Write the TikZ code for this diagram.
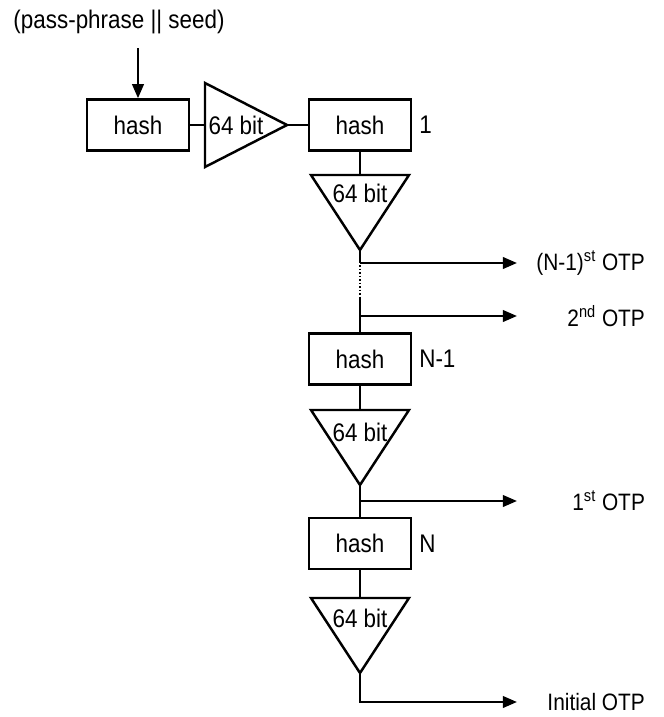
\documentclass[tikz,border=0pt]{standalone}
\usepackage{fontspec}
\setmainfont{Liberation Sans}[FakeStretch=0.88]
\usepackage{tikz}
\usetikzlibrary{arrows.meta}

\begin{document}
\begin{tikzpicture}[line width=1.4pt, font=\fontsize{14.5}{16}\selectfont,
    hashbox/.style={draw, minimum width=2.04cm, minimum height=1.02cm, inner sep=0pt},
    otp/.style={anchor=east, font=\fontsize{13.5}{15}\selectfont},
    arr/.style={-{Triangle[length=8pt,width=6.5pt]}}]
            \useasboundingbox (0,0) rectangle (13.28,-14.34);
            % Input
            \node (seed) at (2.38,-0.44) {(pass-phrase || seed)};
            \coordinate (in) at (2.76,-0.96);
            \node[hashbox] (h0) at (2.76,-2.5) {hash};
            \draw[arr] (in) -- (h0);

            % First fold, pointing right
            \draw (4.1,-1.66) -- (4.1,-3.34) -- (5.74,-2.5) coordinate (t0out) -- cycle;
            \coordinate (t0in) at (4.1,-2.5);
            \node (c0) at (4.72,-2.5) {64 bit};
            \draw (h0) -- (t0in);

            % Hash 1
            \node[hashbox] (h1) at (7.2,-2.5) {hash};
            \node[anchor=west] (l1) at (h1.east) {1};
            \draw (t0out) -- (h1);
            \draw (6.22,-3.5) -- (8.18,-3.5) -- (7.2,-5.0) coordinate (t1) -- cycle;
            \coordinate (t1top) at (7.2,-3.5);
            \node (c1) at (7.2,-3.86) {64 bit};
            \draw (h1) -- (t1top);

            % Outputs of the middle part
            \coordinate (b1) at (7.2,-5.26);
            \coordinate (d1) at (7.2,-5.3);
            \coordinate (d2) at (7.2,-5.94);
            \coordinate (b2) at (7.2,-6.32);
            \node[otp] (o1) at (13.04,-5.26) {(N-1)\textsuperscript{st} OTP};
            \node[otp] (o2) at (13.04,-6.32) {2\textsuperscript{nd} OTP};
            \draw (t1) -- (b1);
            \draw[arr] (b1) -- (10.34,-5.26);
            \draw[line width=1.2pt, dash pattern=on 1pt off 1pt] (d1) -- (d2);

            % Hash N-1
            \node[hashbox] (h2) at (7.2,-7.18) {hash};
            \node[anchor=west] (l2) at (h2.east) {N-1};
            \draw (d2) -- (h2);
            \draw[arr] (b2) -- (10.34,-6.32);
            \draw (6.22,-8.2) -- (8.18,-8.2) -- (7.2,-9.7) coordinate (t2) -- cycle;
            \coordinate (t2top) at (7.2,-8.2);
            \node (c2) at (7.2,-8.64) {64 bit};
            \draw (h2) -- (t2top);

            % Hash N
            \node[hashbox] (h3) at (7.2,-10.87) {hash};
            \node[anchor=west] (l3) at (h3.east) {N};
            \coordinate (b3) at (7.2,-10.02);
            \node[otp] (o3) at (13.04,-10.02) {1\textsuperscript{st} OTP};
            \draw (t2) -- (h3);
            \draw[arr] (b3) -- (10.34,-10.02);
            \draw (6.22,-11.96) -- (8.18,-11.96) -- (7.2,-13.46) coordinate (t3) -- cycle;
            \coordinate (t3top) at (7.2,-11.96);
            \node (c3) at (7.2,-12.36) {64 bit};
            \draw (h3) -- (t3top);

            % Initial OTP
            \node[otp] (o4) at (13.04,-14.04) {Initial OTP};
            \draw[arr] (t3) |- (10.34,-14.04);
        \end{tikzpicture}
\end{document}
